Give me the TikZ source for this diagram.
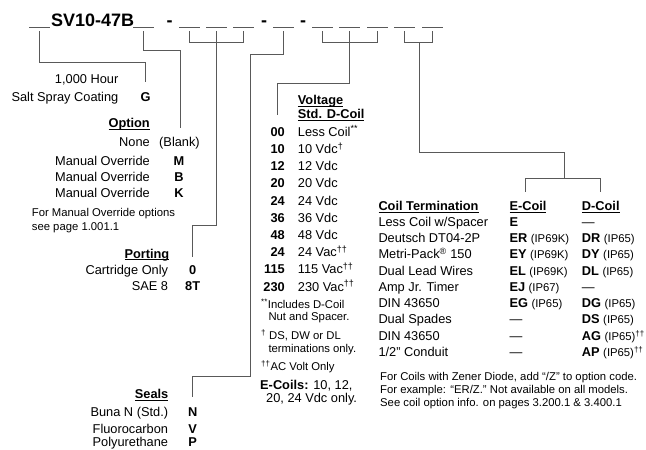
\documentclass[tikz,border=0pt]{standalone}
\usepackage{fontspec}
\setmainfont{Liberation Sans}
\newsavebox{\ulbox}
\newcommand{\uln}[1]{\sbox{\ulbox}{#1}\rlap{\rule[-2.2pt]{\wd\ulbox}{0.9pt}}\usebox{\ulbox}}
\newcommand{\mainsize}{\fontsize{12.8}{15}\selectfont}
\newcommand{\notesize}{\fontsize{11.3}{13}\selectfont}
\newcommand{\ip}[1]{{\fontsize{11.3}{13}\selectfont\mdseries #1}}
\newcommand{\dg}{\textsuperscript{†}}
\newcommand{\ddg}{\textsuperscript{††}}

\begin{document}
\begin{tikzpicture}[x=1pt,y=-1pt,
	txt/.style={inner sep=0pt,font=\mainsize,yshift=-4.6pt},
	lft/.style={txt,anchor=base west},
	rgt/.style={txt,anchor=base east},
	code/.style={txt,anchor=base,font=\mainsize\bfseries},
	lfthead/.style={lft,font=\mainsize\bfseries},
	rgthead/.style={rgt,font=\mainsize\bfseries},
	notetxt/.style={inner sep=0pt,anchor=base west,yshift=-4pt,font=\notesize},
	title/.style={inner sep=0pt,anchor=base west,font=\fontsize{18}{20}\selectfont\bfseries},
	blank/.style={draw=black!65,line width=0.9pt},
	conn/.style={draw=black!65,line width=0.9pt}]
	\useasboundingbox (0,0) rectangle (646,450);
	\node [title] (pn) at (51,26.7) {SV10-47B};
	\node [title,anchor=base] (d1) at (169.5,26.7) {-};
	\node [title,anchor=base] (d2) at (264,26.7) {-};
	\node [title,anchor=base] (d3) at (303,26.7) {-};
	\foreach \x [count=\n from 0] in {29,133,179,206,233,273,312,339,367,394,422} {
		\draw[blank] (\x,27.7) -- ++(21,0);
		\coordinate (t\n) at (\x+10.5,31);
	}
	\coordinate (gend) at (145.7,82);
	\coordinate (oend) at (180,128);
	\coordinate (pend) at (192.7,257);
	\coordinate (sbend) at (250,376);
	\coordinate (send) at (192.7,397);
	\coordinate (vend) at (277.7,115);
	\coordinate (cmid) at (419,42);
	\coordinate (cbar) at (419,152.3);
	\coordinate (cdrop) at (564,178.3);
	\coordinate (eend) at (525.7,191.7);
	\coordinate (dend) at (600,191.7);
	\draw[conn] (t0) -- ++(0,31) -| (gend);
	\draw[conn] (t1) -- ++(0,19) -| (oend);
	\draw[conn] (t2) -- ++(0,11) -| (t4);
	\draw[conn] (t3) -- ++(0,194) -| (pend);
	\draw[conn] (t5) -- ++(0,23) -| (sbend) -| (send);
	\draw[conn] (t6) -- ++(0,11) -| (t8);
	\draw[conn] (t7) -- ++(0,52) -| (vend);
	\draw[conn] (t9) -- ++(0,11) -| (t10);
	\draw[conn] (cmid) -- (cbar) -| (cdrop);
	\draw[conn] (eend) -- ++(0,-13.4) -| (dend);
	\node [rgt] (hour) at (118.5,79.3) {1,000 Hour};
	\node [rgt] (salt) at (118.5,96.7) {Salt Spray Coating};
	\node [code] (G) at (145.7,96.7) {G};
	\node [rgthead] (opt) at (150,123.3) {\uln{Option}};
	\node [rgt] (none) at (150,141.7) {None};
	\node [lft] (blk) at (159,141.7) {(Blank)};
	\foreach \y/\c [count=\i] in {160.7/M,176.7/B,192.7/K} {
		\node [rgt] (mo\i) at (150,\y) {Manual Override};
		\node [code] (c\c) at (179,\y) {\c};
	}
	\node [notetxt] (mn1) at (31.7,212.7) {For Manual Override options};
	\node [notetxt] (mn2) at (31.7,226) {see page 1.001.1};
	\node [rgthead] (port) at (169.5,253.5) {\uln{Porting}};
	\node [rgt] (cart) at (168.3,270) {Cartridge Only};
	\node [code] (c0) at (192.7,270) {0};
	\node [rgt] (sae) at (168.3,285.7) {SAE 8};
	\node [code] (c8T) at (192.7,285.7) {8T};
	\node [rgthead] (seal) at (168.5,394) {\uln{Seals}};
	\node [rgt] (buna) at (168.3,412.3) {Buna N (Std.)};
	\node [code] (cN) at (192.7,412.3) {N};
	\node [rgt] (fluo) at (168.3,428.5) {Fluorocarbon};
	\node [code] (cV) at (192.7,428.5) {V};
	\node [rgt] (poly) at (168.3,442) {Polyurethane};
	\node [code] (cP) at (192.7,442) {P};
	\node [lfthead] (volt) at (297.7,100) {\uln{Voltage}};
	\node [lfthead] (std) at (297.7,114.3) {\uln{Std. D-Coil}};
	\foreach \y/\c/\t [count=\i] in {131.7/00/Less Coil\textsuperscript{**},148.9/10/10 Vdc\dg,166.1/12/12 Vdc,183.3/20/20 Vdc,200.5/24/24 Vdc,217.7/36/36 Vdc,234.9/48/48 Vdc,252.1/24/24 Vac\ddg,269.3/115/115 Vac\ddg,286.5/230/230 Vac\ddg} {
		\node [rgt,font=\mainsize\bfseries] (v\i) at (285,\y) {\c};
		\node [lft] (vd\i) at (297.7,\y) {\t};
	}
	\node [notetxt] (vn1) at (261,304.3) {\textsuperscript{**}Includes D-Coil};
	\node [notetxt] (vn2) at (268.3,316.7) {Nut and Spacer.};
	\node [notetxt] (vn3) at (261,335) {\dg{} DS, DW or DL};
	\node [notetxt] (vn4) at (268.3,348.3) {terminations only.};
	\node [notetxt] (vn5) at (261,366.7) {\ddg AC Volt Only};
	\node [lft] (ec1) at (260,385) {\textbf{E-Coils:} 10, 12,};
	\node [lft] (ec2) at (266,398.3) {20, 24 Vdc only.};
	\node [lfthead] (cth) at (378.3,205.7) {\uln{Coil Termination}};
	\node [lfthead] (ech) at (509.3,205.7) {\uln{E-Coil}};
	\node [lfthead] (dch) at (581.7,205.7) {\uln{D-Coil}};
	\node [lft] (r1) at (378.3,221.7) {Less Coil w/Spacer};
	\node [lft] (e1) at (509.3,221.7) {\textbf{E}};
	\node [lft] (f1) at (581.7,221.7) {—};
	\node [lft] (r2) at (378.3,238) {Deutsch DT04-2P};
	\node [lft] (e2) at (509.3,238) {\textbf{ER} \ip{(IP69K)}};
	\node [lft] (f2) at (581.7,238) {\textbf{DR} \ip{(IP65)}};
	\node [lft] (r3) at (378.3,254.2) {Metri-Pack\textsuperscript{®} 150};
	\node [lft] (e3) at (509.3,254.2) {\textbf{EY} \ip{(IP69K)}};
	\node [lft] (f3) at (581.7,254.2) {\textbf{DY} \ip{(IP65)}};
	\node [lft] (r4) at (378.3,270.5) {Dual Lead Wires};
	\node [lft] (e4) at (509.3,270.5) {\textbf{EL} \ip{(IP69K)}};
	\node [lft] (f4) at (581.7,270.5) {\textbf{DL} \ip{(IP65)}};
	\node [lft] (r5) at (378.3,286.7) {Amp Jr. Timer};
	\node [lft] (e5) at (509.3,286.7) {\textbf{EJ} \ip{(IP67)}};
	\node [lft] (f5) at (581.7,286.7) {—};
	\node [lft] (r6) at (378.3,303) {DIN 43650};
	\node [lft] (e6) at (509.3,303) {\textbf{EG} \ip{(IP65)}};
	\node [lft] (f6) at (581.7,303) {\textbf{DG} \ip{(IP65)}};
	\node [lft] (r7) at (378.3,319.2) {Dual Spades};
	\node [lft] (e7) at (509.3,319.2) {—};
	\node [lft] (f7) at (581.7,319.2) {\textbf{DS} \ip{(IP65)}};
	\node [lft] (r8) at (378.3,335.5) {DIN 43650};
	\node [lft] (e8) at (509.3,335.5) {—};
	\node [lft] (f8) at (581.7,335.5) {\textbf{AG} \ip{(IP65)\ddg}};
	\node [lft] (r9) at (378.3,351.7) {1/2" Conduit};
	\node [lft] (e9) at (509.3,351.7) {—};
	\node [lft] (f9) at (581.7,351.7) {\textbf{AP} \ip{(IP65)\ddg}};
	\node [notetxt] (zn1) at (380,376.7) {For Coils with Zener Diode, add “/Z” to option code.};
	\node [notetxt] (zn2) at (380,389.3) {For example: “ER/Z.” Not available on all models.};
	\node [notetxt] (zn3) at (380,402.7) {See coil option info. on pages 3.200.1 \& 3.400.1};
\end{tikzpicture}
\end{document}
